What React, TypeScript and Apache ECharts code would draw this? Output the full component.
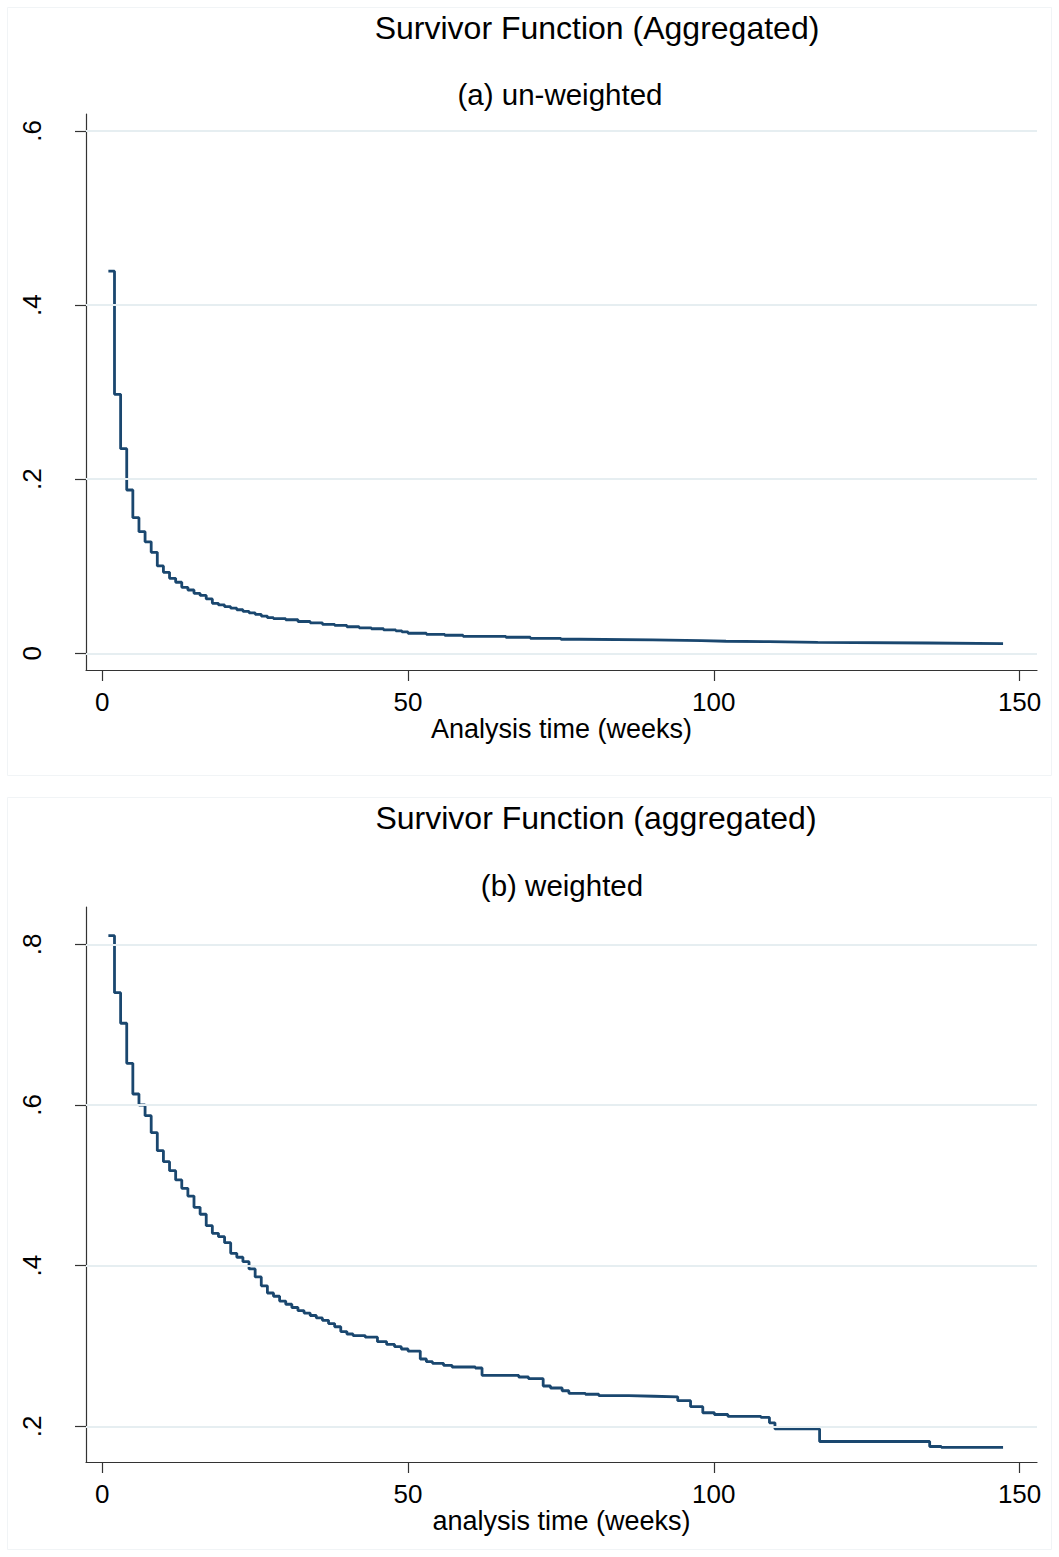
import React, { useEffect, useRef } from "react";
import * as echarts from "echarts";

// ---- Data ----
const xTicks = [0, 50, 100, 150];
const topYTicks = [0, 0.2, 0.4, 0.6];
const bottomYTicks = [0.2, 0.4, 0.6, 0.8];

const topWeeks = [1, 2, 3, 4, 5, 6, 7, 8, 9, 10, 11, 12, 13, 14, 15, 16, 17, 18, 19, 20, 21, 22, 23, 24, 25, 26, 27, 28, 30, 32, 34, 36, 38, 40, 42, 44, 46, 48, 49, 50, 53, 56, 59, 66, 70, 75, 78, 90, 98, 102, 109, 117, 135, 147.3];
const topSurv = [0.439, 0.2975, 0.235, 0.1876, 0.1558, 0.1397, 0.128, 0.116, 0.1003, 0.093, 0.0861, 0.0816, 0.0758, 0.0727, 0.0689, 0.0665, 0.0625, 0.0574, 0.0555, 0.0535, 0.0518, 0.05, 0.0482, 0.0465, 0.0448, 0.0428, 0.0409, 0.0398, 0.0385, 0.0365, 0.035, 0.0333, 0.032, 0.0305, 0.0292, 0.0282, 0.0268, 0.0258, 0.0245, 0.023, 0.0218, 0.0207, 0.0195, 0.0184, 0.0172, 0.0161, 0.0153, 0.0145, 0.0138, 0.0133, 0.0126, 0.0118, 0.011, 0.011];

const bottomWeeks = [1, 2, 3, 4, 5, 6, 7, 8, 9, 10, 11, 12, 13, 14, 15, 16, 17, 18, 19, 20, 21, 22, 23, 24, 25, 26, 27, 28, 29, 30, 31, 32, 33, 34, 35, 36, 37, 38, 39, 40, 41, 43, 45, 46.5, 47.8, 48.9, 50, 52, 53, 54, 55.8, 57.2, 61, 62.1, 68.1, 69.7, 72.1, 73.3, 75.2, 76.3, 79, 81.2, 86.1, 90.2, 94.1, 96.2, 98.2, 100.1, 102.3, 107.7, 109.1, 110, 117.3, 135.3, 137.2, 147.3];
const bottomSurv = [0.8107, 0.7398, 0.7017, 0.6519, 0.6137, 0.6, 0.5867, 0.5655, 0.5431, 0.5294, 0.5182, 0.5067, 0.4963, 0.4867, 0.4727, 0.464, 0.4498, 0.4403, 0.4361, 0.4286, 0.4154, 0.4105, 0.405, 0.396, 0.386, 0.375, 0.366, 0.362, 0.356, 0.352, 0.348, 0.344, 0.341, 0.338, 0.335, 0.332, 0.328, 0.324, 0.318, 0.315, 0.313, 0.311, 0.3054, 0.302, 0.2992, 0.2963, 0.2938, 0.2839, 0.2805, 0.2785, 0.276, 0.2739, 0.2727, 0.2636, 0.2615, 0.2594, 0.2503, 0.2478, 0.2444, 0.2412, 0.24, 0.2382, 0.2375, 0.2368, 0.232, 0.2245, 0.217, 0.2148, 0.2125, 0.2112, 0.2045, 0.1968, 0.1812, 0.175, 0.174, 0.174];

const topTitle = "Survivor Function (Aggregated)";
const topSubtitle = "(a) un-weighted";
const topXName = "Analysis time (weeks)";
const bottomTitle = "Survivor Function (aggregated)";
const bottomSubtitle = "(b) weighted";
const bottomXName = "analysis time (weeks)";

const FONT = "'Liberation Sans', Arial, sans-serif";
const LINE = "#1a476f";
const AXIS = "#333333";
const GRIDC = "#e6eef1";

const fmt = (v: number) => (v === 0 ? "0" : String(+v.toFixed(1)).replace(/^0\./, "."));

function xAxisCfg(gridIndex: number, name: string) {
  return {
    type: "value",
    gridIndex,
    min: -2.66,
    max: 152.85,
    axisLine: { show: true, onZero: false, lineStyle: { color: AXIS, width: 1.2 } },
    axisTick: { show: true, length: 11, customValues: xTicks, lineStyle: { color: AXIS, width: 1.2 } },
    axisLabel: { customValues: xTicks, fontSize: 26, color: "#000", margin: 19, fontFamily: FONT, formatter: (v: number) => String(v) },
    splitLine: { show: false },
    name,
    nameLocation: "middle",
    nameGap: 44,
    nameTextStyle: { fontSize: 27, color: "#000", fontFamily: FONT },
  };
}

function yAxisCfg(gridIndex: number, min: number, max: number, ticks: number[]) {
  return {
    type: "value",
    gridIndex,
    min,
    max,
    axisLine: { show: true, onZero: false, lineStyle: { color: AXIS, width: 1.2 } },
    axisTick: { show: true, length: 11, customValues: ticks, lineStyle: { color: AXIS, width: 1.2 } },
    axisLabel: { customValues: ticks, rotate: 90, fontSize: 26, color: "#000", margin: 41, fontFamily: FONT, formatter: fmt },
    splitLine: { show: false },
  };
}

function gridSeries(idx: number, ticks: number[]) {
  return {
    type: "line",
    xAxisIndex: idx,
    yAxisIndex: idx,
    data: [],
    z: 1,
    silent: true,
    markLine: {
      silent: true,
      symbol: ["none", "none"],
      label: { show: false },
      lineStyle: { color: GRIDC, width: 2, type: "solid" },
      data: ticks.map((v) => ({ yAxis: v })),
    },
  };
}

function curveSeries(idx: number, weeks: number[], surv: number[]) {
  return {
    type: "line",
    xAxisIndex: idx,
    yAxisIndex: idx,
    step: "end",
    showSymbol: false,
    symbol: "none",
    z: 3,
    lineStyle: { color: LINE, width: 2.8 },
    data: weeks.map((w, i) => [w, surv[i]]),
  };
}

export default function App() {
  const ref = useRef<HTMLDivElement>(null);
  useEffect(() => {
    if (!ref.current) return;
    const chart = echarts.init(ref.current, undefined, { renderer: "svg" });
    const textStyle = (text: string, size: number) => ({
      text,
      fontSize: size,
      fill: "#000",
      fontFamily: FONT,
      align: "center",
      verticalAlign: "middle",
    });
    chart.setOption({
      animation: false,
      backgroundColor: "#ffffff",
      grid: [
        { left: 86, top: 114, width: 951, height: 556 },
        { left: 86, top: 907, width: 951, height: 555 },
      ],
      xAxis: [xAxisCfg(0, topXName), xAxisCfg(1, bottomXName)],
      yAxis: [
        yAxisCfg(0, -0.0192, 0.6195, topYTicks),
        yAxisCfg(1, 0.1557, 0.8464, bottomYTicks),
      ],
      series: [
        gridSeries(0, topYTicks),
        gridSeries(1, bottomYTicks),
        curveSeries(0, topWeeks, topSurv),
        curveSeries(1, bottomWeeks, bottomSurv),
      ],
      graphic: [
        { type: "rect", shape: { x: 7.5, y: 7.5, width: 1044, height: 768 }, style: { fill: "none", stroke: "#f1f4f6", lineWidth: 1 }, silent: true, z: -1 },
        { type: "rect", shape: { x: 7.5, y: 797.5, width: 1044, height: 752 }, style: { fill: "none", stroke: "#f1f4f6", lineWidth: 1 }, silent: true, z: -1 },
        { type: "text", x: 597, y: 28, style: textStyle(topTitle, 32) },
        { type: "text", x: 560, y: 94, style: textStyle(topSubtitle, 29.5) },
        { type: "text", x: 596, y: 818, style: textStyle(bottomTitle, 32) },
        { type: "text", x: 562, y: 885, style: textStyle(bottomSubtitle, 29.5) },
      ],
    });
    return () => chart.dispose();
  }, []);
  return (
    <div
      ref={ref}
      style={{ position: "absolute", left: 0, top: 0, width: 1059, height: 1557, background: "#fff" }}
    />
  );
}
